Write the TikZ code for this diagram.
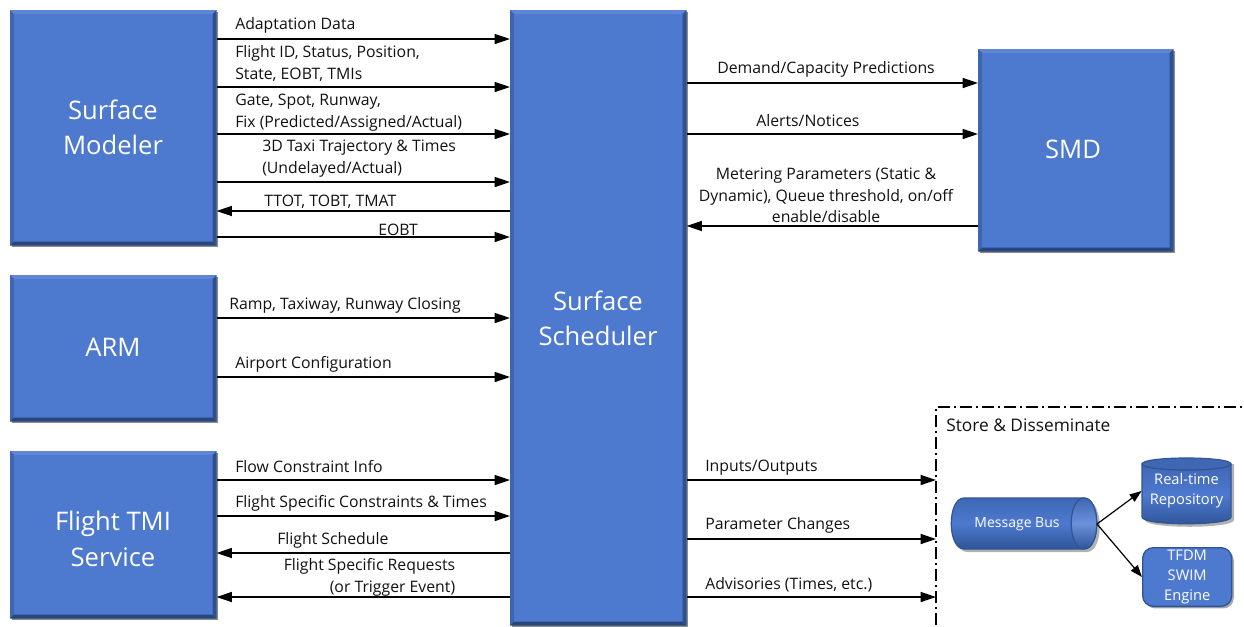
\documentclass[tikz,border=0pt]{standalone}
\usepackage{fontspec}
\setmainfont{Open Sans}
\usetikzlibrary{arrows.meta,shadows,calc}
\definecolor{bluefill}{HTML}{4D79CF}
\definecolor{bluedark}{HTML}{2F5597}
\definecolor{bluemid}{HTML}{3F67B4}
\definecolor{bluelight}{HTML}{6C91DA}
\definecolor{bevtop}{HTML}{5F86D6}
\definecolor{bevleft}{HTML}{3E66B0}
\definecolor{bevright}{HTML}{2E5290}
\definecolor{bevbot}{HTML}{27467D}
\definecolor{lab}{HTML}{111111}
\tikzset{
  x=0.75pt,y=-0.75pt,
  bigbox/.style={fill=bluefill,draw=none,anchor=north west,inner sep=0pt,
    drop shadow={shadow xshift=1.6pt,shadow yshift=-1.6pt,opacity=.45,fill=black}},
  bigtext/.style={text=white,align=center,font=\fontsize{19.2}{26.5}\selectfont,inner sep=0pt},
  smallbox/.style={text=white,align=center,font=\fontsize{11}{15}\selectfont,inner sep=0pt},
  lbl/.style={font=\fontsize{11.85}{16.2}\selectfont,text=lab,inner sep=0pt,align=center,yshift=-1.1pt},
  lblw/.style={lbl,align=left,anchor=west},
  arr/.style={draw=black,line width=1.1pt,-{Triangle[length=11.5pt,width=7.5pt]}},
  arrs/.style={draw=black,line width=.9pt,-{Triangle[length=9pt,width=6.5pt]}},
  frame/.style={draw=black,line width=.8pt,dash pattern=on 9pt off 3pt on 1.5pt off 3pt},
  shade3d/.style={top color=bluemid,bottom color=bluedark,middle color=bluefill,draw=bluedark,line width=.9pt},
}
\newcommand{\bevelbox}[1]{%
  \fill[bevtop] (#1.north west)--(#1.north east)--++(-4,4)-|($(#1.north west)+(4,4)$)--cycle;
  \fill[bevleft] (#1.north west)--(#1.south west)--++(4,-4)|-($(#1.north west)+(4,4)$)--cycle;
  \fill[bevright] (#1.north east)--(#1.south east)--++(-4,-4)|-($(#1.north east)+(-4,4)$)--cycle;
  \fill[bevbot] (#1.south west)--(#1.south east)--++(-4,-4)-|($(#1.south west)+(4,-4)$)--cycle;
}
\begin{document}
\begin{tikzpicture}
\useasboundingbox (0,0) rectangle (1244,626);
% big boxes
\node[bigbox,minimum width=154.5pt,minimum height=176.25pt] (sm) at (10,10) {};
\bevelbox{sm}
\node[bigtext] (smt) at (113,127) {Surface\\Modeler};
\node[bigbox,minimum width=154.5pt,minimum height=109.5pt] (arm) at (10,275) {};
\bevelbox{arm}
\node[bigtext] (armt) at (113,347) {ARM};
\node[bigbox,minimum width=154.5pt,minimum height=125.25pt] (tmi) at (10,451) {};
\bevelbox{tmi}
\node[bigtext] (tmit) at (113,539) {Flight TMI\\Service};
\node[bigbox,minimum width=132pt,minimum height=461.25pt] (ss) at (510,10) {};
\bevelbox{ss}
\node[bigtext] (sst) at (598,318) {Surface\\Scheduler};
\node[bigbox,minimum width=146.25pt,minimum height=151.5pt] (smd) at (978,49) {};
\bevelbox{smd}
\node[bigtext] (smdt) at (1073,149) {SMD};
% store frame
\coordinate (fb) at (936,625);
\coordinate (fc) at (936,407);
\coordinate (fe) at (1244,407);
\draw[frame] (fb)--(fc)--(fe);
\node[lblw,font=\fontsize{13}{16}\selectfont,yshift=1.1pt] (sd) at (946,425) {Store \& Disseminate};
% line levels
\foreach \n/\y in {a/39,b/87,c/134,d/182,e/211,f/237,g/318,h/377,i/480,j/516,k/553,l/597,m/83,o/226,p/539}
  {\coordinate (y\n) at (0,\y);}
\coordinate (st) at (936,0);
% left connectors
\draw[arr] (sm.east |- ya) -- (ss.west |- ya);
\draw[arr] (sm.east |- yb) -- (ss.west |- yb);
\draw[arr] (sm.east |- yc) -- (ss.west |- yc);
\draw[arr] (sm.east |- yd) -- (ss.west |- yd);
\draw[arr] (ss.west |- ye) -- (sm.east |- ye);
\draw[arr] (sm.east |- yf) -- (ss.west |- yf);
\draw[arr] (arm.east |- yg) -- (ss.west |- yg);
\draw[arr] (arm.east |- yh) -- (ss.west |- yh);
\draw[arr] (tmi.east |- yi) -- (ss.west |- yi);
\draw[arr] (tmi.east |- yj) -- (ss.west |- yj);
\draw[arr] (ss.west |- yk) -- (tmi.east |- yk);
\draw[arr] (ss.west |- yl) -- (tmi.east |- yl);
% right connectors
\draw[arr] (ss.east |- ym) -- (smd.west |- ym);
\draw[arr] (ss.east |- yc) -- (smd.west |- yc);
\draw[arr] (smd.west |- yo) -- (ss.east |- yo);
\draw[arr] (ss.east |- yi) -- (st |- yi);
\draw[arr] (ss.east |- yp) -- (st |- yp);
\draw[arr] (ss.east |- yl) -- (st |- yl);
% labels left
\node[lblw] (l1) at (235,24) {Adaptation Data};
\node[lblw] (l2) at (235,62) {Flight ID, Status, Position,\\State, EOBT, TMIs};
\node[lblw] (l3) at (235,111) {Gate, Spot, Runway,\\Fix (Predicted/Assigned/Actual)};
\node[lblw] (l4) at (262,157) {3D Taxi Trajectory \& Times\\(Undelayed/Actual)};
\node[lblw] (l5) at (264,200) {TTOT, TOBT, TMAT};
\node[lblw] (l6) at (378,228) {EOBT};
\node[lblw] (l7) at (229,304) {Ramp, Taxiway, Runway Closing};
\node[lblw] (l8) at (235,363) {Airport Configuration};
\node[lblw] (l9) at (235,465) {Flow Constraint Info};
\node[lblw] (l10) at (235,502) {Flight Specific Constraints \& Times};
\node[lblw] (l11) at (277,539) {Flight Schedule};
\node[lbl,align=right] (l12) at (369.5,576) {Flight Specific Requests\\(or Trigger Event)};
% labels right
\node[lblw] (r1) at (717,68) {Demand/Capacity Predictions};
\node[lblw] (r2) at (756,119) {Alerts/Notices};
\node[lbl] (r3) at (826,194) {Metering Parameters (Static \&\\Dynamic), Queue threshold, on/off\\enable/disable};
\node[lblw] (r4) at (705,466) {Inputs/Outputs};
\node[lblw] (r5) at (705,524) {Parameter Changes};
\node[lblw] (r6) at (705,583) {Advisories (Times, etc.)};
% message bus
\fill[black,opacity=.3] (967,501) -- (1087,501) .. controls (1104,501) and (1104,552) .. (1087,552) -- (967,552) .. controls (950,552) and (950,501) .. (967,501) -- cycle;
\path[shade3d] (964,498) -- (1084,498) .. controls (1101,498) and (1101,549) .. (1084,549) -- (964,549) .. controls (947,549) and (947,498) .. (964,498) -- cycle;
\path[draw=bluedark,line width=.9pt,top color=bluemid,bottom color=bluedark,middle color=bluelight] (1084,498) .. controls (1101,498) and (1101,549) .. (1084,549) .. controls (1067,549) and (1067,498) .. (1084,498) -- cycle;
\node[smallbox,font=\fontsize{10.5}{15}\selectfont] (bus) at (1017,524) {Message Bus};
\coordinate (busr) at (1097,524);
% repository cylinder
\fill[black,opacity=.3] (1145,464) -- (1145,520) .. controls (1145,529) and (1234,529) .. (1234,520) -- (1234,464) -- cycle;
\path[shade3d] (1142,464) -- (1142,517) .. controls (1142,526) and (1231,526) .. (1231,517) -- (1231,464) -- cycle;
\path[draw=bluedark,line width=.9pt,fill=bluemid] (1142,464) .. controls (1142,456) and (1231,456) .. (1231,464) .. controls (1231,472) and (1142,472) .. (1142,464) -- cycle;
\node[smallbox,minimum width=67pt] (rep) at (1186.5,491) {Real-time\\Repository};
% TFDM
\node[smallbox,fill=bluefill,draw=bluedark,line width=1pt,rounded corners=8pt,minimum width=66.75pt,minimum height=44pt,anchor=north west,
  drop shadow={shadow xshift=1.6pt,shadow yshift=-1.6pt,opacity=.35,fill=black}] (swim) at (1142,547) {TFDM\\SWIM\\Engine};
% bus connectors
\draw[arrs] (busr) -- (rep.west);
\draw[arrs] (busr) -- (swim.west);
\end{tikzpicture}
\end{document}
